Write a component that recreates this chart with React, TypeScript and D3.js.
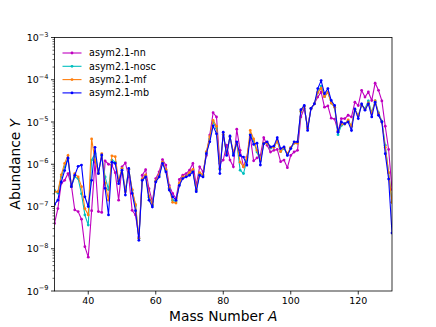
import React from 'react';
import * as d3 from 'd3';

// mass numbers 30..130
const massNumbers = d3.range(30, 131);

// log10 of the abundance, one per mass number
const nnLog = [
  -7.4, -7.05, -6.45, -6.38, -6.22, -6.5, -7.08, -7.12, -7.3, -7.95,
  -8.2, -7.1, -5.95, -7.12, -7.14, -5.92, -6.0, -6.02, -6.2, -6.85,
  -6.06, -5.97, -6.3, -7.09, -7.2, -7.72, -6.26, -6.13, -6.58, -6.89,
  -6.34, -6.18, -5.89, -6.02, -6.5, -6.69, -6.81, -6.36, -6.26, -6.22,
  -6.14, -5.98, -6.5, -6.06, -6.18, -5.79, -5.31, -4.78, -4.88, -5.98,
  -5.9, -5.55, -5.9, -6.06, -5.17, -5.67, -6.06, -5.83, -5.35, -5.92,
  -5.85, -5.79, -5.37, -5.55, -5.71, -5.67, -5.65, -5.94, -5.9, -6.08,
  -5.79, -5.71, -5.67, -4.88, -4.68, -5.12, -4.68, -4.57, -4.41, -4.29,
  -4.65, -4.62, -4.91, -4.93, -5.22, -4.92, -4.92, -4.84, -4.88, -4.53,
  -4.61, -4.25, -4.41, -4.29, -4.49, -4.08, -4.25, -4.5, -5.1, -5.65,
  -6.6,
];
const noscLog = [
  -6.62, -6.68, -6.3, -6.06, -5.87, -6.53, -6.3, -6.34, -6.7, -7.2,
  -7.44, -5.9, -5.75, -6.2, -5.8, -6.3, -6.6, -5.9, -5.95, -6.4,
  -6.1, -6.62, -6.12, -6.62, -6.98, -7.75, -6.36, -6.27, -6.78, -6.97,
  -6.4, -6.27, -5.96, -6.14, -6.57, -6.85, -6.88, -6.47, -6.32, -6.28,
  -6.22, -6.15, -6.62, -6.22, -6.27, -5.72, -5.4, -5.0, -5.15, -6.12,
  -5.3, -5.75, -5.35, -5.75, -5.5, -6.14, -6.22, -5.9, -5.3, -5.45,
  -5.71, -5.92, -5.52, -5.5, -5.62, -5.6, -5.45, -5.7, -5.62, -5.78,
  -5.62, -5.5, -5.5, -4.75, -4.63, -5.15, -4.68, -4.57, -4.3, -4.15,
  -4.4, -4.3, -4.55, -4.65, -5.3, -5.08, -5.05, -4.97, -5.1, -4.7,
  -4.85, -4.6, -4.68, -4.5, -4.78, -4.5, -4.78, -4.98, -5.55, -6.2,
  -6.9,
];
const mfLog = [
  -6.65, -6.65, -6.25, -5.98, -5.79, -6.53, -6.22, -6.3, -6.53, -7.05,
  -7.2, -5.4, -5.9, -6.22, -5.75, -6.45, -6.85, -5.8, -5.82, -6.4,
  -6.1, -6.65, -6.12, -6.6, -6.95, -7.75, -6.35, -6.25, -6.75, -6.95,
  -6.4, -6.25, -5.95, -6.12, -6.55, -6.9, -6.92, -6.45, -6.3, -6.28,
  -6.2, -6.12, -6.6, -6.2, -6.25, -5.7, -5.35, -4.96, -5.1, -6.1,
  -5.3, -5.75, -5.35, -5.7, -5.5, -5.95, -6.06, -5.85, -5.2, -5.4,
  -5.67, -5.9, -5.5, -5.5, -5.6, -5.6, -5.45, -5.7, -5.6, -5.75,
  -5.6, -5.5, -5.5, -4.75, -4.63, -5.15, -4.68, -4.57, -4.3, -4.2,
  -4.4, -4.3, -4.55, -4.65, -5.2, -5.05, -5.05, -4.95, -5.1, -4.7,
  -4.85, -4.6, -4.7, -4.55, -4.8, -4.5, -4.8, -5.0, -5.6, -6.2,
  -6.9,
];
const mbLog = [
  -6.95, -6.85, -6.42, -6.15, -5.85, -6.53, -6.26, -6.05, -6.02, -6.77,
  -7.0, -6.38, -5.6, -6.22, -5.78, -6.57, -7.2, -5.95, -5.98, -6.46,
  -6.14, -6.73, -6.1, -6.69, -7.1, -7.8, -6.38, -6.3, -6.85, -7.01,
  -6.42, -6.3, -5.98, -6.18, -6.61, -6.77, -6.85, -6.5, -6.34, -6.3,
  -6.26, -6.18, -6.65, -6.26, -6.3, -5.75, -5.47, -5.09, -5.28, -6.22,
  -5.24, -5.79, -5.33, -5.79, -5.47, -5.79, -5.83, -6.02, -5.31, -5.53,
  -5.5, -6.02, -5.51, -5.47, -5.59, -5.57, -5.37, -5.63, -5.59, -5.79,
  -5.63, -5.47, -5.47, -4.71, -4.61, -5.2, -4.68, -4.57, -4.21, -4.02,
  -4.33, -4.21, -4.49, -4.61, -5.24, -5.0, -5.04, -5.0, -5.2, -4.69,
  -4.92, -4.57, -4.72, -4.57, -4.88, -4.53, -4.84, -5.0, -5.75, -6.35,
  -7.63,
];

const seriesNames = ['asym2.1-nn', 'asym2.1-nosc', 'asym2.1-mf', 'asym2.1-mb'];
const seriesColors = ['#bf00bf', '#00bfbf', '#ff7f0e', '#0000ff'];
const seriesLogs = [nnLog, noscLog, mfLog, mbLog];

const xTicks = [40, 60, 80, 100, 120];
const yDecades = [-9, -8, -7, -6, -5, -4, -3];

const W = 436;
const H = 327;
const margin = { left: 54.5, right: 392, top: 37.5, bottom: 291 };
const FONT = 'DejaVu Sans, sans-serif';

export default function App() {
  const x = d3.scaleLinear().domain([30, 130]).range([margin.left, margin.right]);
  const y = d3.scaleLog().domain([1e-9, 1e-3]).range([margin.bottom, margin.top]);

  const line = d3
    .line<[number, number]>()
    .x(d => x(d[0]))
    .y(d => y(d[1]));

  // minor ticks 2..9 in every decade
  const minorTicks: number[] = [];
  yDecades.slice(0, -1).forEach(e => {
    for (let k = 2; k <= 9; k++) minorTicks.push(k * Math.pow(10, e));
  });

  return (
    <svg width={W} height={H} style={{ position: 'absolute', left: 0, top: 0 }} fontFamily={FONT}>
      <rect width={W} height={H} fill="#fff" />
      <defs>
        <clipPath id="plot">
          <rect x={margin.left} y={margin.top} width={margin.right - margin.left} height={margin.bottom - margin.top} />
        </clipPath>
      </defs>

      <g clipPath="url(#plot)">
        {seriesLogs.map((logs, i) => {
          const pts: [number, number][] = massNumbers.map((a, j) => [a, Math.pow(10, logs[j])]);
          return (
            <g key={seriesNames[i]}>
              <path d={line(pts) || ''} fill="none" stroke={seriesColors[i]} strokeWidth={1.1} />
              {pts.map((p, j) => (
                <circle key={j} cx={x(p[0])} cy={y(p[1])} r={1.4} fill={seriesColors[i]} />
              ))}
            </g>
          );
        })}
      </g>

      {/* frame */}
      <rect
        x={margin.left}
        y={margin.top}
        width={margin.right - margin.left}
        height={margin.bottom - margin.top}
        fill="none"
        stroke="#000"
        strokeWidth={0.8}
      />

      {/* x ticks */}
      {xTicks.map(t => (
        <g key={t}>
          <line x1={x(t)} x2={x(t)} y1={margin.bottom} y2={margin.bottom + 3.5} stroke="#000" strokeWidth={0.8} />
          <text x={x(t)} y={margin.bottom + 6} fontSize={9.5} textAnchor="middle" dominantBaseline="hanging">
            {t}
          </text>
        </g>
      ))}

      {/* y ticks */}
      {minorTicks.map((t, i) => (
        <line key={i} x1={margin.left - 2} x2={margin.left} y1={y(t)} y2={y(t)} stroke="#000" strokeWidth={0.6} />
      ))}
      {yDecades.map(e => (
        <g key={e}>
          <line x1={margin.left - 3.5} x2={margin.left} y1={y(Math.pow(10, e))} y2={y(Math.pow(10, e))} stroke="#000" strokeWidth={0.8} />
          <text x={margin.left - 6} y={y(Math.pow(10, e)) + 3.5} fontSize={9.5} textAnchor="end">
            10
            <tspan fontSize={6.6} dy={-4.5}>
              {'\u2212' + Math.abs(e)}
            </tspan>
          </text>
        </g>
      ))}

      {/* axis labels */}
      <text x={(margin.left + margin.right) / 2} y={321} fontSize={13.8} textAnchor="middle">
        Mass Number <tspan fontStyle="italic">A</tspan>
      </text>
      <text
        transform={`translate(20,${(margin.top + margin.bottom) / 2}) rotate(-90)`}
        fontSize={13.8}
        textAnchor="middle"
      >
        Abundance <tspan fontStyle="italic">Y</tspan>
      </text>

      {/* legend, no frame */}
      <g>
        {seriesNames.map((name, i) => {
          const cy = 53 + i * 13.3;
          return (
            <g key={name}>
              <line x1={62.5} x2={81.5} y1={cy} y2={cy} stroke={seriesColors[i]} strokeWidth={1.1} />
              <circle cx={72} cy={cy} r={1.4} fill={seriesColors[i]} />
              <text x={89} y={cy + 3.4} fontSize={9.6}>
                {name}
              </text>
            </g>
          );
        })}
      </g>
    </svg>
  );
}
